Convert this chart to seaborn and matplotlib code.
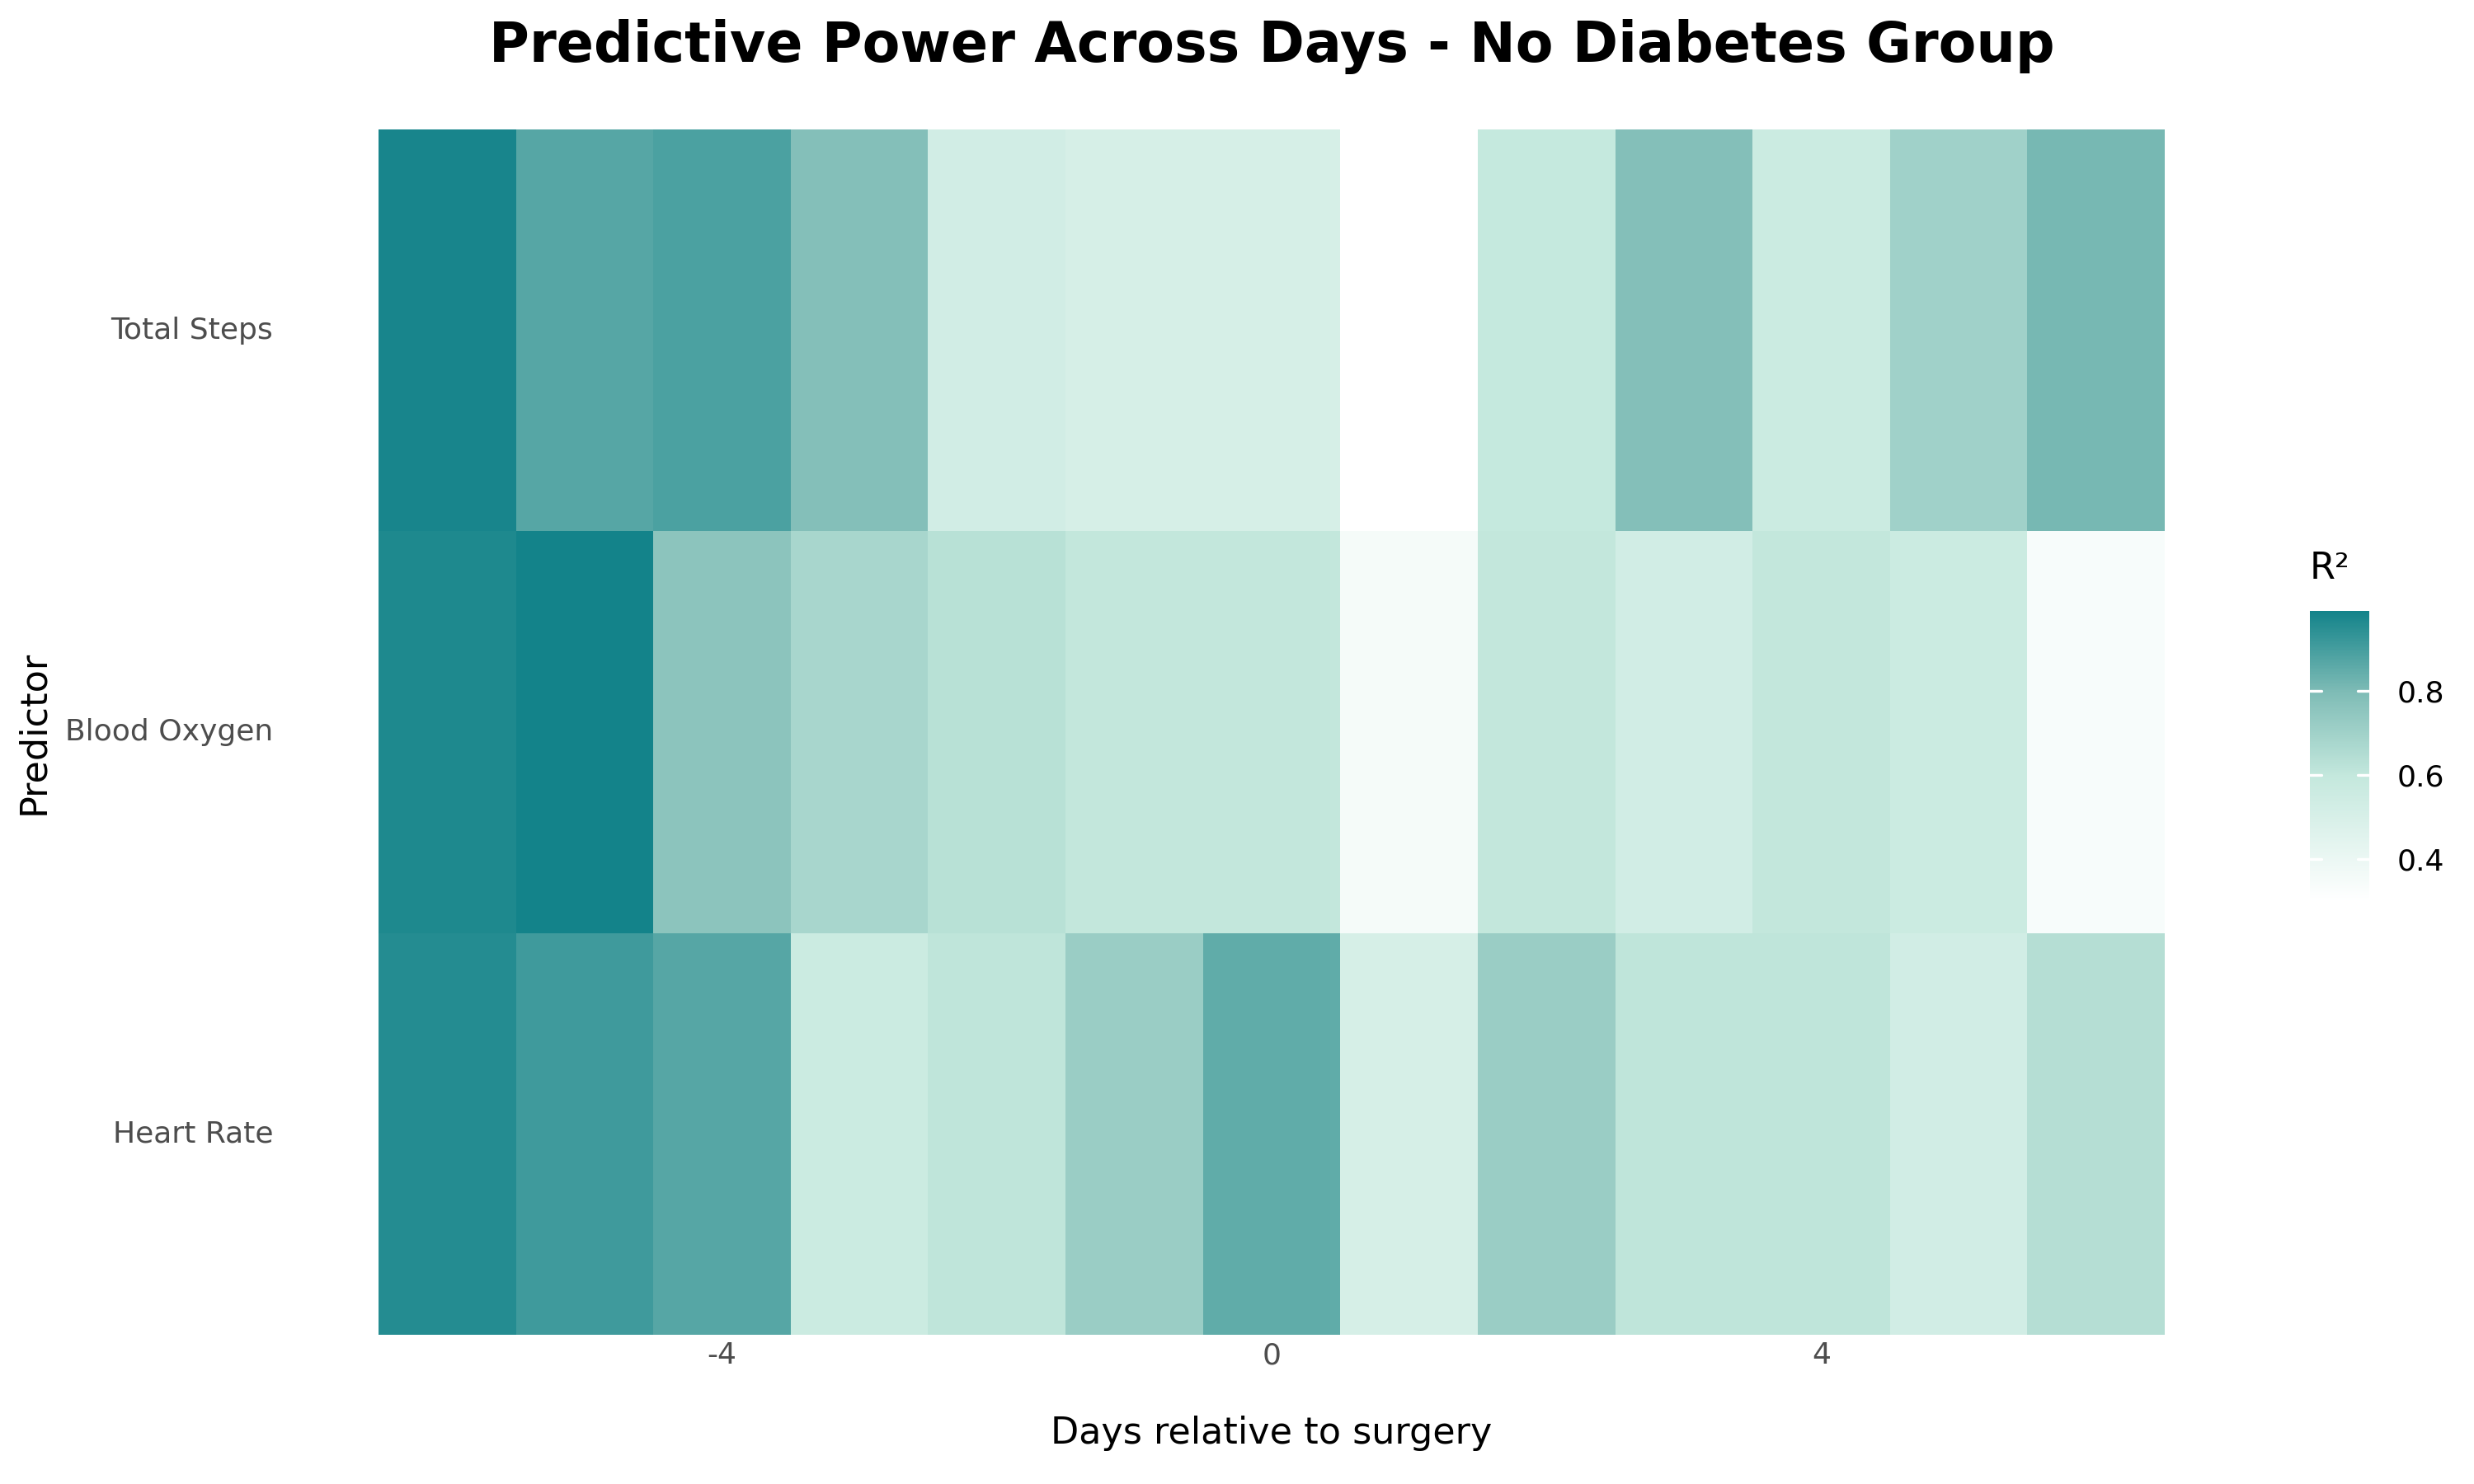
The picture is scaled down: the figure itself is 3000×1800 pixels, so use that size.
import numpy as np
import pandas as pd
import matplotlib
matplotlib.use("Agg")
import matplotlib.pyplot as plt
import seaborn as sns
from matplotlib.colors import LinearSegmentedColormap

# Data
days = [-6, -5, -4, -3, -2, -1, 0, 1, 2, 3, 4, 5, 6]
predictors = ["Total Steps", "Blood Oxygen", "Heart Rate"]
total_steps = [0.98, 0.87, 0.89, 0.78, 0.53, 0.51, 0.51, np.nan, 0.59, 0.78, 0.56, 0.70, 0.81]
blood_oxygen = [0.97, 0.99, 0.76, 0.68, 0.63, 0.60, 0.60, 0.35, 0.60, 0.53, 0.60, 0.56, 0.34]
heart_rate = [0.96, 0.91, 0.87, 0.56, 0.61, 0.72, 0.85, 0.51, 0.72, 0.61, 0.61, 0.53, 0.64]
x_tick_days = [-4, 0, 4]

df = pd.DataFrame([total_steps, blood_oxygen, heart_rate], index=predictors, columns=days)

sns.set_theme(style="white")
plt.rcParams["font.family"] = ["DejaVu Sans"]
plt.rcParams["text.color"] = "black"
plt.rcParams["axes.labelcolor"] = "black"

cmap = LinearSegmentedColormap.from_list(
    "r2", [(0.0, "#ffffff"), (0.43, "#c4e8dd"), (0.72, "#7fbcb6"), (1.0, "#13838a")]
)

fig = plt.figure(figsize=(15, 9), dpi=200)
ax = fig.add_axes([459 / 3000, 1 - 1619 / 1800, (2625 - 459) / 3000, (1619 - 157) / 1800])
cax = fig.add_axes([2801 / 3000, 1 - 1093 / 1800, 72 / 3000, (1093 - 741) / 1800])

sns.heatmap(df, ax=ax, cmap=cmap, vmin=0.30, vmax=0.99, cbar_ax=cax,
            linewidths=0, square=False)

ax.set_xticks([days.index(d) + 0.5 for d in x_tick_days])
ax.set_xticklabels([str(d) for d in x_tick_days], rotation=0, fontsize=13, color="#4d4d4d")
ax.set_yticklabels(predictors, rotation=0, fontsize=13, color="#4d4d4d")
ax.tick_params(axis="y", length=0, pad=46)
ax.tick_params(axis="x", length=0, pad=3)
ax.set_xlabel("Days relative to surgery", fontsize=16, labelpad=20)
ax.set_ylabel("Predictor", fontsize=16, labelpad=6)
for s in ax.spines.values():
    s.set_visible(False)

fig.suptitle("Predictive Power Across Days - No Diabetes Group",
             fontsize=24, fontweight="bold", x=0.514, y=0.987)

cax.set_yticks([0.4, 0.6, 0.8])
cax.tick_params(length=0, labelsize=13, pad=12, labelcolor="black")
for t in [0.4, 0.6, 0.8]:
    cax.plot([0, 0.2], [t, t], color="white", lw=1.2, transform=cax.get_yaxis_transform())
    cax.plot([0.8, 1.0], [t, t], color="white", lw=1.2, transform=cax.get_yaxis_transform())
for s in cax.spines.values():
    s.set_visible(False)
cax.set_title("R²", fontsize=16, loc="left", pad=14)

fig.savefig("out.png", dpi=200)
